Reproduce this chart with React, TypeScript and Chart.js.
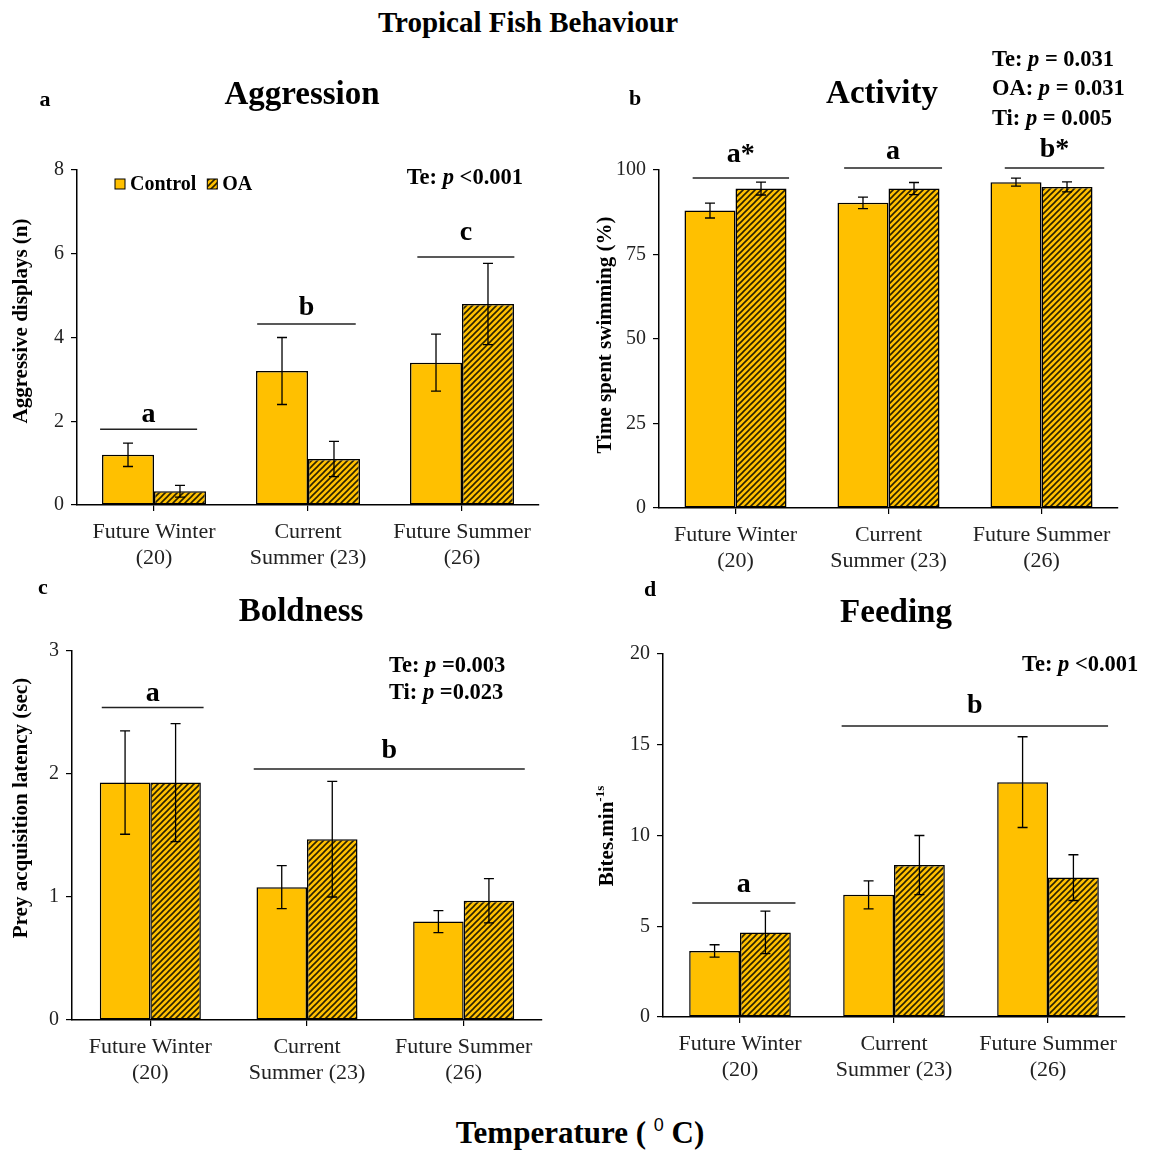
import React, { useEffect, useRef } from 'react';
import { Chart, registerables } from 'chart.js';

Chart.register(...registerables);

// ---------------- data ----------------
const categories = [['Future Winter', '(20)'], ['Current', 'Summer (23)'], ['Future Summer', '(26)']];
const seriesNames = ['Control', 'OA'];

const aggressionControl = [1.2, 3.2, 3.4];
const aggressionControlErr = [0.28, 0.8, 0.68];
const aggressionOA = [0.33, 1.1, 4.8];
const aggressionOAErr = [0.14, 0.42, 0.97];
const aggressionTicks = { min: 0, max: 8, step: 2 };
const aggressionLetters = ['a', 'b', 'c'];
const aggressionStats = ['Te: |p| <0.001'];

const activityControl = [88.0, 90.3, 96.4];
const activityControlErr = [2.2, 1.7, 1.2];
const activityOA = [94.5, 94.5, 95.0];
const activityOAErr = [1.9, 1.8, 1.5];
const activityTicks = { min: 0, max: 100, step: 25 };
const activityLetters = ['a*', 'a', 'b*'];
const activityStats = ['Te: |p| = 0.031', 'OA: |p| = 0.031', 'Ti: |p| = 0.005'];

const boldnessControl = [1.93, 1.08, 0.8];
const boldnessControlErr = [0.42, 0.175, 0.09];
const boldnessOA = [1.93, 1.47, 0.97];
const boldnessOAErr = [0.48, 0.47, 0.18];
const boldnessTicks = { min: 0, max: 3, step: 1 };
const boldnessLetters = ['a', 'b'];
const boldnessStats = ['Te: |p| =0.003', 'Ti: |p| =0.023'];

const feedingControl = [3.64, 6.73, 12.94];
const feedingControlErr = [0.34, 0.77, 2.5];
const feedingOA = [4.66, 8.37, 7.68];
const feedingOAErr = [1.17, 1.63, 1.26];
const feedingTicks = { min: 0, max: 20, step: 5 };
const feedingLetters = ['a', 'b'];
const feedingStats = ['Te: |p| <0.001'];

// ---------------- styling / layout ----------------
const FONT = "'Liberation Serif', 'Times New Roman', Times, serif";
const GOLD = '#FFC000';

function makeHatch(): any {
  const c = document.createElement('canvas');
  c.width = 6;
  c.height = 6;
  const g = c.getContext('2d')!;
  g.fillStyle = GOLD;
  g.fillRect(0, 0, 6, 6);
  g.strokeStyle = '#2b2200';
  g.lineWidth = 1.6;
  g.beginPath();
  g.moveTo(-1, 7); g.lineTo(7, -1);
  g.moveTo(-1, 1); g.lineTo(1, -1);
  g.moveTo(5, 7); g.lineTo(7, 5);
  g.stroke();
  return g.createPattern(c, 'repeat');
}

type Seg = { text: string; italic?: boolean; sup?: boolean };

const panels: any[] = [
  {
    key: 'A', x: 0, y: 40, w: 575, h: 540,
    area: { left: 77, right: 539, top: 130, bottom: 465 },
    catPct: 0.675,
    control: aggressionControl, controlErr: aggressionControlErr,
    oa: aggressionOA, oaErr: aggressionOAErr, ticks: aggressionTicks,
    title: 'Aggression', titlePos: [302, 55], letter: 'a', letterPos: [45, 60],
    yTitle: [{ text: 'Aggressive displays (n)' }], yTitlePos: [22, 281],
    groups: [
      { text: aggressionLetters[0], from: -0.35, to: 0.28, lineY: 1.81, textY: 1.99 },
      { text: aggressionLetters[1], from: 0.67, to: 1.31, lineY: 4.32, textY: 4.54 },
      { text: aggressionLetters[2], from: 1.71, to: 2.34, lineY: 5.92, textY: 6.33 },
    ],
    stats: aggressionStats, statsPos: [523, 138], statsAlign: 'right', statsGap: 28,
    legend: { x: 115, y: 144 },
  },
  {
    key: 'B', x: 575, y: 40, w: 574, h: 540,
    area: { left: 84, right: 543, top: 130, bottom: 468 },
    catPct: 0.667,
    control: activityControl, controlErr: activityControlErr,
    oa: activityOA, oaErr: activityOAErr, ticks: activityTicks,
    title: 'Activity', titlePos: [307, 54], letter: 'b', letterPos: [60, 59],
    yTitle: [{ text: 'Time spent swimming (%)' }], yTitlePos: [31, 295],
    groups: [
      { text: activityLetters[0], from: -0.28, to: 0.35, lineY: 97.6, textY: 102.4 },
      { text: activityLetters[1], from: 0.71, to: 1.35, lineY: 100.6, textY: 103.3 },
      { text: activityLetters[2], from: 1.76, to: 2.41, lineY: 100.6, textY: 103.8 },
    ],
    stats: activityStats, statsPos: [417, 20], statsAlign: 'left', statsGap: 29.5,
  },
  {
    key: 'C', x: 0, y: 570, w: 575, h: 530,
    area: { left: 72, right: 542, top: 81, bottom: 450 },
    catPct: 0.645,
    control: boldnessControl, controlErr: boldnessControlErr,
    oa: boldnessOA, oaErr: boldnessOAErr, ticks: boldnessTicks,
    title: 'Boldness', titlePos: [301, 42], letter: 'c', letterPos: [43, 18],
    yTitle: [{ text: 'Prey acquisition latency (sec)' }], yTitlePos: [22, 238],
    groups: [
      { text: boldnessLetters[0], from: -0.31, to: 0.34, lineY: 2.54, textY: 2.59 },
      { text: boldnessLetters[1], from: 0.66, to: 2.39, lineY: 2.04, textY: 2.13 },
    ],
    stats: boldnessStats, statsPos: [389, 96], statsAlign: 'left', statsGap: 27,
  },
  {
    key: 'D', x: 575, y: 570, w: 574, h: 530,
    area: { left: 88, right: 550, top: 84, bottom: 447 },
    catPct: 0.66,
    control: feedingControl, controlErr: feedingControlErr,
    oa: feedingOA, oaErr: feedingOAErr, ticks: feedingTicks,
    title: 'Feeding', titlePos: [321, 43], letter: 'd', letterPos: [75, 20],
    yTitle: [{ text: 'Bites.min' }, { text: '-1s', sup: true }], yTitlePos: [33, 266],
    groups: [
      { text: feedingLetters[0], from: -0.31, to: 0.36, lineY: 6.28, textY: 6.9 },
      { text: feedingLetters[1], from: 0.66, to: 2.39, lineY: 16.03, textY: 16.75 },
    ],
    stats: feedingStats, statsPos: [447, 95], statsAlign: 'left', statsGap: 27,
  },
];

function parseStat(s: string): Seg[] {
  return s.split('|').map((t, i) => ({ text: t, italic: i % 2 === 1 }));
}

function drawSegs(ctx: CanvasRenderingContext2D, segs: Seg[], x: number, y: number, size: number, align: string) {
  const fontFor = (s: Seg) => `${s.italic ? 'italic ' : ''}bold ${s.sup ? Math.round(size * 0.62) : size}px ${FONT}`;
  let total = 0;
  segs.forEach((s) => { ctx.font = fontFor(s); total += ctx.measureText(s.text).width; });
  let cx = align === 'right' ? x - total : align === 'center' ? x - total / 2 : x;
  ctx.textAlign = 'left';
  ctx.textBaseline = 'middle';
  segs.forEach((s) => {
    ctx.font = fontFor(s);
    ctx.fillText(s.text, cx, s.sup ? y - size * 0.35 : y);
    cx += ctx.measureText(s.text).width;
  });
}

function makePlugin(cfg: any) {
  const errors = [cfg.controlErr, cfg.oaErr];
  return {
    id: 'decor' + cfg.key,
    afterDatasetsDraw(chart: any) {
      const ctx = chart.ctx as CanvasRenderingContext2D;
      const ys = chart.scales.y;
      ctx.save();
      ctx.strokeStyle = '#000';
      ctx.lineWidth = 1.3;
      chart.data.datasets.forEach((ds: any, di: number) => {
        const meta = chart.getDatasetMeta(di);
        meta.data.forEach((bar: any, j: number) => {
          const v = ds.data[j];
          const e = errors[di][j];
          const x = bar.x;
          const yt = ys.getPixelForValue(v + e);
          const yb = ys.getPixelForValue(v - e);
          ctx.beginPath();
          ctx.moveTo(x, yt); ctx.lineTo(x, yb);
          ctx.moveTo(x - 5, yt); ctx.lineTo(x + 5, yt);
          ctx.moveTo(x - 5, yb); ctx.lineTo(x + 5, yb);
          ctx.stroke();
        });
      });
      ctx.restore();
    },
    afterDraw(chart: any) {
      const ctx = chart.ctx as CanvasRenderingContext2D;
      const xs = chart.scales.x;
      const ys = chart.scales.y;
      ctx.save();
      ctx.fillStyle = '#000';
      // title
      ctx.font = `bold 33px ${FONT}`;
      ctx.textAlign = 'center';
      ctx.textBaseline = 'middle';
      ctx.fillText(cfg.title, cfg.titlePos[0], cfg.titlePos[1]);
      // panel letter
      ctx.font = `bold 22px ${FONT}`;
      ctx.fillText(cfg.letter, cfg.letterPos[0], cfg.letterPos[1]);
      // y title
      ctx.save();
      ctx.translate(cfg.yTitlePos[0], cfg.yTitlePos[1]);
      ctx.rotate(-Math.PI / 2);
      drawSegs(ctx, cfg.yTitle, 0, 0, 21, 'center');
      ctx.restore();
      // group letters
      const x0 = xs.getPixelForValue(0);
      const cat = xs.getPixelForValue(1) - x0;
      ctx.strokeStyle = '#222';
      ctx.lineWidth = 1.5;
      cfg.groups.forEach((g: any) => {
        const xa = x0 + g.from * cat;
        const xb = x0 + g.to * cat;
        const ly = ys.getPixelForValue(g.lineY);
        ctx.beginPath();
        ctx.moveTo(xa, ly); ctx.lineTo(xb, ly);
        ctx.stroke();
        ctx.font = `bold 28px ${FONT}`;
        ctx.textAlign = 'center';
        ctx.textBaseline = 'alphabetic';
        ctx.fillText(g.text, (xa + xb) / 2, ys.getPixelForValue(g.textY));
      });
      // stats
      cfg.stats.forEach((s: string, i: number) => {
        drawSegs(ctx, parseStat(s), cfg.statsPos[0], cfg.statsPos[1] + i * cfg.statsGap, 22.5, cfg.statsAlign);
      });
      // legend
      if (cfg.legend) {
        let cx = cfg.legend.x;
        const cy = cfg.legend.y;
        chart.data.datasets.forEach((ds: any) => {
          ctx.fillStyle = ds.backgroundColor;
          ctx.fillRect(cx, cy - 5, 10, 10);
          ctx.strokeStyle = '#000';
          ctx.lineWidth = 1;
          ctx.strokeRect(cx, cy - 5, 10, 10);
          cx += 15;
          ctx.fillStyle = '#000';
          ctx.font = `bold 20px ${FONT}`;
          ctx.textAlign = 'left';
          ctx.textBaseline = 'middle';
          ctx.fillText(ds.label, cx, cy + 1);
          cx += ctx.measureText(ds.label).width + 11;
        });
      }
      ctx.restore();
    },
  };
}

function Panel({ cfg }: { cfg: any }) {
  const ref = useRef<HTMLCanvasElement>(null);
  useEffect(() => {
    const canvas = ref.current!;
    const hatch = makeHatch();
    const area = cfg.area;
    const chart = new Chart(canvas, {
      type: 'bar',
      data: {
        labels: categories as any,
        datasets: [
          { label: seriesNames[0], data: cfg.control, backgroundColor: GOLD, borderColor: '#000', borderWidth: 1.5, borderSkipped: false },
          { label: seriesNames[1], data: cfg.oa, backgroundColor: hatch, borderColor: '#000', borderWidth: 1.5, borderSkipped: false },
        ] as any,
      },
      options: {
        responsive: false,
        animation: false,
        devicePixelRatio: 1,
        layout: { padding: { left: 0, top: area.top, right: cfg.w - area.right, bottom: 0 } },
        datasets: { bar: { categoryPercentage: cfg.catPct, barPercentage: 1 } } as any,
        plugins: { legend: { display: false }, tooltip: { enabled: false }, title: { display: false } },
        scales: {
          x: {
            offset: true,
            grid: { display: true, offset: false, drawOnChartArea: false, tickLength: 6, color: '#000', lineWidth: 1.2 },
            border: { display: true, color: '#000', width: 1.5 },
            ticks: { font: { family: FONT, size: 22, lineHeight: 1.2 }, color: '#222', padding: 8, maxRotation: 0, autoSkip: false },
            afterFit: (s: any) => { s.height = cfg.h - area.bottom; },
          } as any,
          y: {
            min: cfg.ticks.min,
            max: cfg.ticks.max,
            ticks: { stepSize: cfg.ticks.step, font: { family: FONT, size: 20 }, color: '#222', padding: 7 },
            grid: { display: true, drawOnChartArea: false, tickLength: 6, color: '#000', lineWidth: 1.2 },
            border: { display: true, color: '#000', width: 1.5 },
            afterFit: (s: any) => { s.width = area.left; },
          } as any,
        },
      },
      plugins: [makePlugin(cfg)],
    });
    return () => chart.destroy();
  }, []);
  return (
    <canvas
      ref={ref}
      width={cfg.w}
      height={cfg.h}
      style={{ position: 'absolute', left: cfg.x, top: cfg.y, width: cfg.w, height: cfg.h }}
    />
  );
}

export default function App() {
  return (
    <div style={{ position: 'absolute', left: 0, top: 0, width: 1149, height: 1151, overflow: 'hidden', background: '#fff' }}>
      {panels.map((p) => <Panel key={p.key} cfg={p} />)}
      <div style={{ position: 'absolute', left: 228, top: 6, width: 600, textAlign: 'center', font: `bold 29px ${FONT}`, lineHeight: '32px', color: '#000' }}>
        Tropical Fish Behaviour
      </div>
      <div style={{ position: 'absolute', left: 300, top: 1115, width: 560, textAlign: 'center', font: `bold 31px ${FONT}`, lineHeight: '36px', color: '#000' }}>
        Temperature ({' '}
        <span style={{ fontFamily: "'Liberation Sans', Arial, sans-serif", fontWeight: 'normal', fontSize: 18, position: 'relative', top: -12 }}>0</span>
        {' '}C)
      </div>
    </div>
  );
}
